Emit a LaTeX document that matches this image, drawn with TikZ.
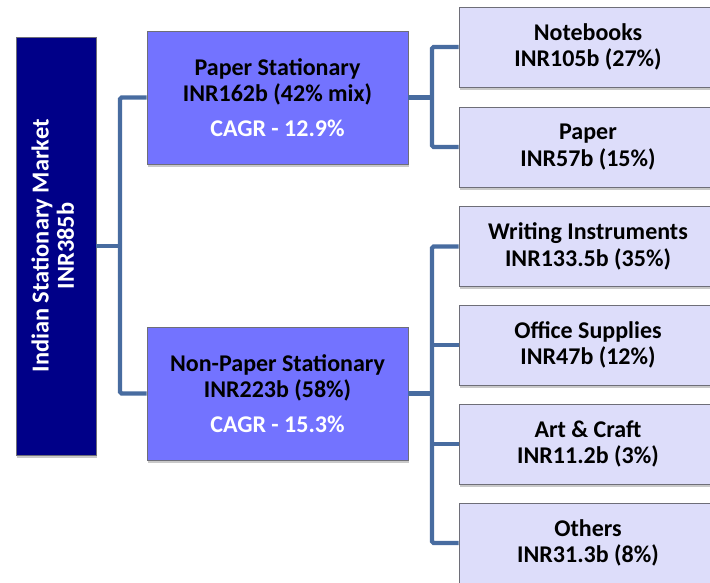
\documentclass[tikz,border=0pt]{standalone}
\usepackage{fontspec}
\setmainfont{Carlito}
\usepackage{graphicx}
\usetikzlibrary{shadows}
\definecolor{rootfill}{RGB}{0,0,136}
\definecolor{midfill}{RGB}{115,115,255}
\definecolor{leaffill}{RGB}{221,221,250}
\definecolor{connc}{RGB}{72,108,160}
\definecolor{bordc}{RGB}{110,110,120}
\tikzset{
  basebox/.style={draw=bordc, line width=0.6pt, inner sep=0pt, align=center,
    font=\fontsize{18}{19.5}\selectfont\bfseries,
    drop shadow={shadow xshift=1pt, shadow yshift=-2.2pt, opacity=0.35, fill=black!60}},
  rootbox/.style={basebox, fill=rootfill, text=white, minimum width=60pt, minimum height=313.5pt,
    font=\fontsize{18.3}{19.5}\selectfont\bfseries},
  midbox/.style={basebox, fill=midfill, text=black, minimum width=195.75pt, minimum height=99.75pt},
  leafbox/.style={basebox, fill=leaffill, text=black, minimum width=193.5pt, minimum height=60pt,
    font=\fontsize{18}{20}\selectfont\bfseries},
  conn/.style={draw=connc, line width=3.2pt, rounded corners=1.2pt}
}
\begin{document}
\begin{tikzpicture}[x=0.75pt,y=-0.75pt]
\useasboundingbox (0,0) rectangle (710,582);
\fill[white] (0,0) rectangle (710,582);
\node[rootbox] (root) at (56,246) {\rotatebox{90}{\begin{tabular}{@{}c@{}}Indian Stationary Market\\[-0.5pt] INR385b\end{tabular}}};
\node[midbox] (ps) at (277.5,97.5) {Paper Stationary\\ INR162b (42\% mix)\\[7pt] \textcolor{white}{CAGR - 12.9\%}};
\node[midbox] (nps) at (277.5,393.5) {Non-Paper Stationary\\ INR223b (58\%)\\[7pt] \textcolor{white}{CAGR - 15.3\%}};
\node[leafbox] (nb) at (588,47) {Notebooks\\ INR105b (27\%)};
\node[leafbox] (pp) at (588,147) {Paper\\ INR57b (15\%)};
\node[leafbox] (wi) at (588,246.5) {Writing Instruments\\ INR133.5b (35\%)};
\node[leafbox] (os) at (588,345) {Office Supplies\\ INR47b (12\%)};
\node[leafbox] (ac) at (588,444) {Art \& Craft\\ INR11.2b (3\%)};
\node[leafbox] (ot) at (588,543) {Others\\ INR31.3b (8\%)};
\coordinate (j1) at (120,246);
\coordinate (j2) at (432,97.5);
\coordinate (j3) at (432,393.5);
\draw[conn] (root.east) -- (root.east -| j1);
\draw[conn] (ps.west) -| (j1) |- (nps.west);
\draw[conn] (ps.east) -- (ps.east -| j2);
\draw[conn] (nb.west) -| (j2) |- (pp.west);
\draw[conn] (nps.east) -- (nps.east -| j3);
\draw[conn] (wi.west) -| (j3) |- (ot.west);
\draw[conn] (os.west) -- (os.west -| j3);
\draw[conn] (ac.west) -- (ac.west -| j3);
\end{tikzpicture}
\end{document}
